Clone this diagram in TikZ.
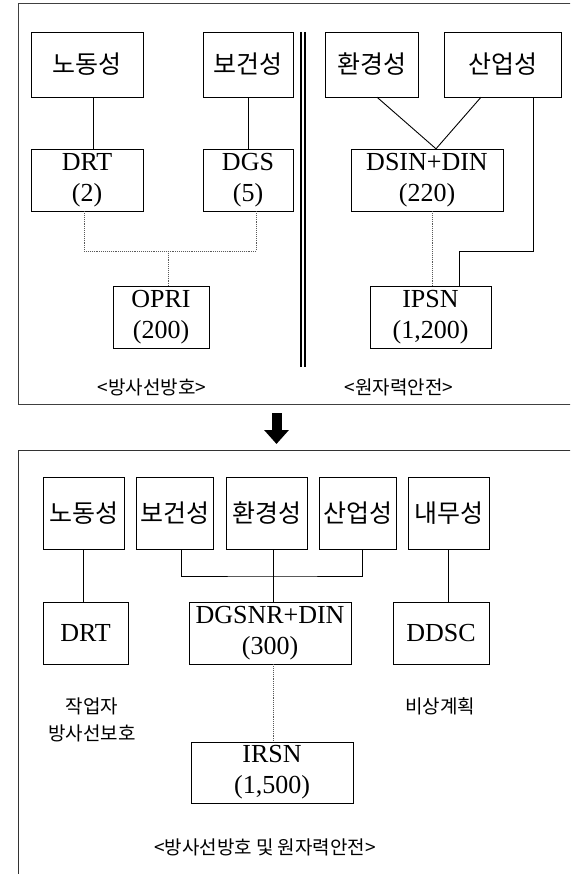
\documentclass[tikz,border=0pt]{standalone}
\usepackage{fontspec}
\setmainfont{Liberation Serif}
\newfontfamily\kr{Noto Sans CJK KR}
\usepackage{tikz}
\usetikzlibrary{arrows.meta}
\tikzstyle{ministry} = [rectangle, draw, inner sep=0pt, minimum height=65, font=\kr\fontsize{25}{29}\selectfont]
\tikzstyle{agency} = [rectangle, draw, inner sep=0pt, minimum height=62, align=center, font=\fontsize{26}{31}\selectfont]
\tikzstyle{line} = [draw, line width=0.9pt]
\tikzstyle{dotline} = [draw, densely dotted, line width=0.9pt, color=black!65]
\tikzstyle{caption} = [font=\kr\fontsize{19}{23}\selectfont]
\tikzstyle{remark} = [align=center, font=\kr\fontsize{19}{27}\selectfont]

\begin{document}
\begin{tikzpicture}[x=1pt, y=-1pt]
				\clip (0,0) rectangle (570,874);
				% Frames
				\draw[black!75, line width=1pt] (18,4) rectangle (590,404);
				\draw[black!80, line width=1pt] (18,450) rectangle (590,900);
				\draw[line width=2.2pt] (301,32) -- (301,367);
				\draw[line width=2.2pt] (304.6,32) -- (304.6,367);
				
				% Place nodes (before)
				\node [ministry, minimum width=112] (lab1) at (87,64.5) {노동성};
				\node [ministry, minimum width=90] (hlth1) at (248,64.5) {보건성};
				\node [ministry, minimum width=93] (env1) at (371.5,64.5) {환경성};
				\node [ministry, minimum width=117] (ind1) at (502.5,64.5) {산업성};
				\node [agency, minimum width=112] (drt1) at (87,180) {DRT\\(2)};
				\node [agency, minimum width=90] (dgs) at (248,180) {DGS\\(5)};
				\node [agency, minimum width=152] (dsin) at (427,180) {DSIN+DIN\\(220)};
				\node [agency, minimum width=96] (opri) at (161,317) {OPRI\\(200)};
				\node [agency, minimum width=121] (ipsn) at (430.5,317) {IPSN\\(1,200)};
				\node [caption] (radprot) at (152,387) {<방사선방호>};
				\node [caption] (nucsafe) at (399,387) {<원자력안전>};
				\coordinate (jn1) at (168,251);
				\coordinate (jn2) at (459,251);
				
				% Draw edges (before)
				\path [line] ([xshift=6]lab1.south) -- ([xshift=6]drt1.north);
				\path [line] (hlth1.south) -- (dgs.north);
				\path [line] ([xshift=5.5]env1.south) -- ([xshift=9]dsin.north);
				\path [line] ([xshift=-21.5]ind1.south) -- ([xshift=9]dsin.north);
				\path [line] ([xshift=30.5]ind1.south) |- (jn2) -- (jn2 |- ipsn.north);
				\path [dotline] ([xshift=-3]drt1.south) |- (jn1) -| ([xshift=8]dgs.south);
				\path [dotline] (jn1) -- (jn1 |- opri.north);
				\path [dotline] ([xshift=5]dsin.south) -- ([xshift=5]dsin.south |- ipsn.north);
				
				% Reorganisation arrow
				\coordinate (arrtop) at (276.5,413);
				\coordinate (arrtip) at (276.5,444);
				\draw[line width=10pt, -{Triangle[width=24pt, length=14pt]}] (arrtop) -- (arrtip);
				
				% Place nodes (after)
				\node [ministry, minimum width=81, minimum height=72] (lab2) at (83.5,513) {노동성};
				\node [ministry, minimum width=77, minimum height=72] (hlth2) at (174.5,513) {보건성};
				\node [ministry, minimum width=81, minimum height=72] (env2) at (266.5,513) {환경성};
				\node [ministry, minimum width=77, minimum height=72] (ind2) at (357.5,513) {산업성};
				\node [ministry, minimum width=81, minimum height=72] (int2) at (448.5,513) {내무성};
				\node [agency, minimum width=85] (drt2) at (85.5,633) {DRT};
				\node [agency, minimum width=162] (dgsnr) at (270,633) {DGSNR+DIN\\(300)};
				\node [agency, minimum width=96] (ddsc) at (441,633) {DDSC};
				\node [agency, minimum width=162, minimum height=61] (irsn) at (272,772.5) {IRSN\\(1,500)};
				\node [remark] (workers) at (92,719.5) {작업자\\방사선보호};
				\node [remark] (emerg) at (440,706) {비상계획};
				\node [caption] (both) at (265,847) {<방사선방호 및 원자력안전>};
				\coordinate (bus) at (273,576);
				
				% Draw edges (after)
				\path [line] (lab2.south) -- (lab2.south |- drt2.north);
				\path [line] ([xshift=6.5]hlth2.south) |- (bus) -| ([xshift=4.5]ind2.south);
				\path [line] (env2.south -| bus) -- (dgsnr.north -| bus);
				\path [line] (int2.south) -- (int2.south |- ddsc.north);
				\path [dotline] (dgsnr.south -| bus) -- (irsn.north -| bus);
			\end{tikzpicture}
\end{document}
